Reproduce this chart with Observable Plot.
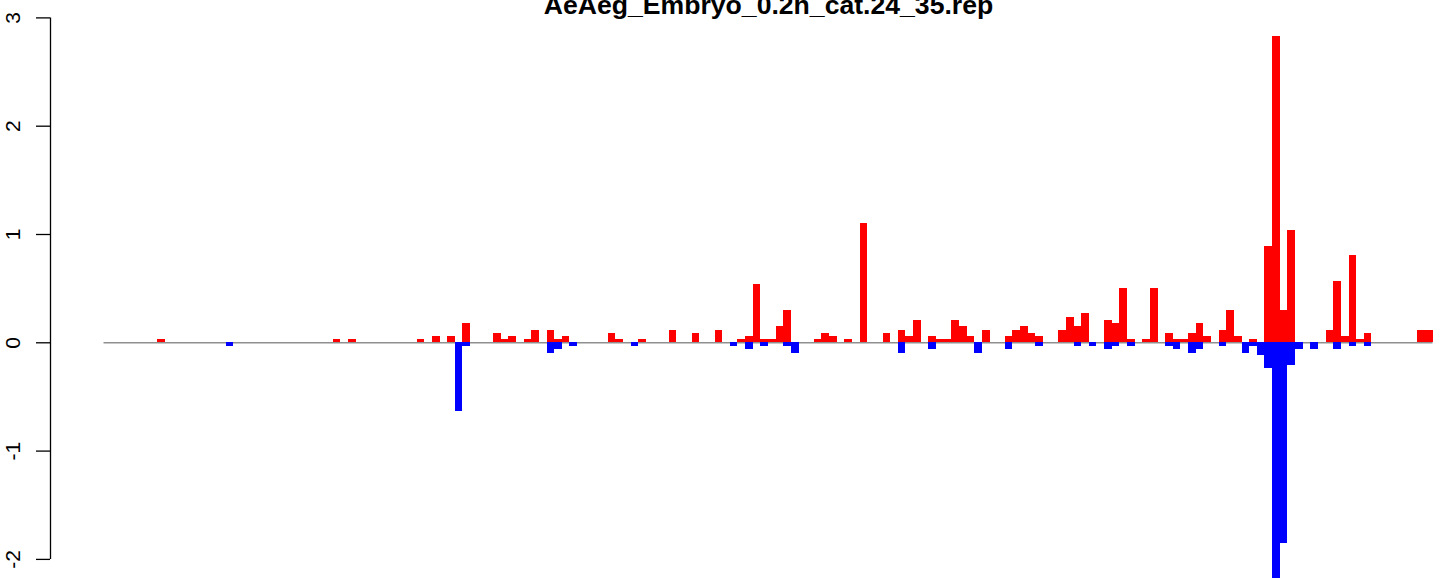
<!DOCTYPE html>
<html>
<head>
<meta charset="utf-8">
<script src="https://cdn.jsdelivr.net/npm/d3@7"></script>
<script src="https://cdn.jsdelivr.net/npm/@observablehq/plot@0.6"></script>
<style>
  html, body { margin: 0; padding: 0; background: #fff; }
  #chart svg { display: block; }
</style>
</head>
<body>
<div id="chart"></div>
<script>
// ---- data ----
const chartTitle = "AeAeg_Embryo_0.2h_cat.24_35.rep";
const binCount = 174;

const upBins = [7, 30, 32, 41, 43, 45, 47, 51, 52, 53, 55, 56, 58, 59, 60, 66, 67, 70, 74, 77, 80,
  83, 84, 85, 86, 87, 88, 89, 93, 94, 95, 97, 99, 102, 104, 105, 106, 108, 109, 110, 111, 112, 113,
  115, 118, 119, 120, 121, 122, 125, 126, 127, 128, 131, 132, 133, 134, 136, 137, 139, 140, 141, 142,
  143, 144, 146, 147, 148, 150, 152, 153, 154, 155, 160, 161, 162, 163, 164, 165, 172, 173];
const upValues = [0.03, 0.03, 0.03, 0.03, 0.06, 0.06, 0.18, 0.09, 0.03, 0.06, 0.03, 0.11, 0.11, 0.03, 0.06, 0.09, 0.03, 0.03, 0.11, 0.09, 0.11,
  0.03, 0.06, 0.54, 0.03, 0.03, 0.15, 0.30, 0.03, 0.09, 0.06, 0.03, 1.10, 0.09, 0.11, 0.06, 0.21, 0.06, 0.03, 0.03, 0.21, 0.15, 0.06,
  0.11, 0.06, 0.11, 0.15, 0.09, 0.06, 0.11, 0.23, 0.15, 0.27, 0.21, 0.18, 0.50, 0.03, 0.03, 0.50, 0.09, 0.03, 0.03, 0.09,
  0.18, 0.06, 0.11, 0.30, 0.06, 0.03, 0.89, 2.83, 0.30, 1.04, 0.11, 0.57, 0.06, 0.81, 0.03, 0.09, 0.11, 0.11];

const downBins = [16, 46, 47, 58, 59, 61, 69, 82, 84, 86, 89, 90, 104, 108, 114, 118, 122, 127, 129,
  131, 132, 134, 139, 140, 142, 143, 146, 149, 150, 151, 152, 153, 154, 155, 156, 158, 161, 163, 165];
const downValues = [-0.03, -0.63, -0.03, -0.10, -0.06, -0.03, -0.03, -0.03, -0.06, -0.03, -0.03, -0.10, -0.10, -0.06, -0.10, -0.06, -0.03, -0.03, -0.03,
  -0.06, -0.03, -0.03, -0.03, -0.06, -0.10, -0.06, -0.03, -0.10, -0.03, -0.12, -0.24, -2.30, -1.85, -0.21, -0.06, -0.06, -0.06, -0.03, -0.03];

const yTicks = [-2, -1, 0, 1, 2, 3];

// ---- tables built from the arrays ----
const up = upBins.map((b, i) => ({bin: b, v: upValues[i]}));
const down = downBins.map((b, i) => ({bin: b, v: downValues[i]}));

const W = 1441, H = 578;
const xLeft = -7.004, xRight = 175.11;   // x domain (bar units), axis sits at xLeft
const yBottom = -2.1764, yTop = 3.1606;  // y domain
const font = "'Liberation Sans', Arial, Helvetica, sans-serif";

const chart = Plot.plot({
  width: W,
  height: H,
  marginLeft: 50,
  marginRight: 0,
  marginTop: 0,
  marginBottom: 0,
  style: {background: "#fff", fontFamily: font, overflow: "hidden"},
  x: {domain: [xLeft, xRight], axis: null},
  y: {domain: [yBottom, yTop]},
  marks: [
    // baseline under the bars
    Plot.ruleY([0], {x1: () => 0, x2: () => binCount, stroke: "#8f8f8f", strokeWidth: 1.6}),
    Plot.rectY(down, {x1: "bin", x2: d => d.bin + 1, y: "v", fill: "#0000ff", shapeRendering: "crispEdges"}),
    Plot.rectY(up, {x1: "bin", x2: d => d.bin + 1, y: "v", fill: "#ff0000", shapeRendering: "crispEdges"}),
    // y axis (R style)
    Plot.ruleX([xLeft], {y1: () => -2, y2: () => 3, stroke: "#000", strokeWidth: 1.3}),
    Plot.axisY({ticks: yTicks, tickSize: 14, tickFormat: () => "", label: null, stroke: "#000", strokeWidth: 1.3}),
    Plot.text(yTicks, {
      x: () => xLeft, y: d => d, text: d => String(d),
      rotate: -90, dx: -37.5, textAnchor: "middle", lineAnchor: "middle",
      fontSize: 21, fill: "#000", fontFamily: font
    }),
    // title (cut by the top edge, as in the reference)
    Plot.text([chartTitle], {
      x: () => binCount / 2, frameAnchor: "top", lineAnchor: "bottom", dy: 13,
      text: d => d, fontSize: 26.6, fontWeight: "bold", fill: "#000", fontFamily: font
    })
  ]
});

document.getElementById("chart").appendChild(chart);
</script>
</body>
</html>
